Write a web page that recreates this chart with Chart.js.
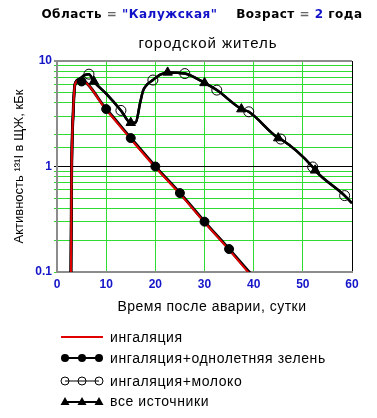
<!DOCTYPE html>
<html>
<head>
<meta charset="utf-8">
<script src="https://cdn.jsdelivr.net/npm/chart.js@4"></script>
<style>
    body { margin: 0; background: #fff; }
    #wrap { position: relative; width: 377px; height: 418px; font-family: "Liberation Sans", Arial, sans-serif; color: #000; }
    #chart { position: absolute; left: 0; top: 0; }
    .head { position: absolute; left: 20px; top: 7px; width: 364px; text-align: center; font-family: "DejaVu Sans", sans-serif; font-weight: bold; font-size: 12px; letter-spacing: 0.5px; white-space: pre; }
    .blue { color: #1010c8; }
    .eq { color: #666; }
    .sub { position: absolute; left: 108px; top: 34px; width: 200px; text-align: center; font-size: 15px; letter-spacing: 1px; }
    .xtitle { position: absolute; left: 112px; top: 298px; width: 200px; text-align: center; font-size: 14px; letter-spacing: 0.5px; }
    .legend { position: absolute; left: 60px; top: 328px; }
    .row { position: absolute; left: 0; height: 18px; width: 310px; display: flex; align-items: center; font-size: 14px; letter-spacing: 0.6px; white-space: nowrap; }
    .row svg { margin-right: 6px; }
</style>
</head>
<body>
<div id="wrap">
    <canvas id="chart" width="377" height="418"></canvas>
    <div class="head">Область <span class="eq">=</span> <span class="blue">"Калужская"</span>    Возраст <span class="eq">=</span> <span class="blue">2</span> года</div>
    <div class="sub">городской житель</div>
    <div class="xtitle" id="xtitle"></div>
    <div class="legend" id="legend"></div>
</div>
<script>
// inhalation only (red line)
const inhalDays = [2.8, 2.95, 3.3, 3.7, 4.7, 10, 15, 20, 25, 30, 35, 39.5];
const inhalValues = [0.05, 0.7, 3.3, 6.1, 6.6, 3.45, 1.82, 0.98, 0.55, 0.295, 0.162, 0.092];

// inhalation + leafy greens (black line, filled dots)
const greensDays = [2.8, 2.95, 3.3, 3.7, 4.7, 10, 15, 20, 25, 30, 35, 39.5];
const greensValues = [0.05, 0.7, 3.3, 6.1, 6.6, 3.5, 1.86, 1.0, 0.56, 0.3, 0.165, 0.095];
const greensMarkDays = [5, 10, 15, 20, 25, 30, 35];
const greensMarkValues = [6.4, 3.5, 1.86, 1.0, 0.56, 0.3, 0.165];

// inhalation + milk (black line, open circles)
const milkDays = [2.8, 2.95, 3.3, 3.7, 4.5, 5.5, 6.5, 7.5, 10, 13, 15, 16, 16.9, 17.5, 18.2, 19.5, 20.9, 22.5, 26, 30, 32.5, 37.5, 39, 45, 45.5, 52, 52.5, 58.5, 60];
const milkValues = [0.05, 0.7, 3.3, 6.1, 6.7, 7.3, 7.5, 6.4, 4.9, 3.4, 2.6, 2.6, 4.0, 5.2, 5.9, 6.6, 7.4, 7.8, 7.6, 6.2, 5.3, 3.5, 3.3, 1.86, 1.82, 0.99, 0.92, 0.53, 0.45];
const milkMarkDays = [6.5, 13, 19.5, 26, 32.5, 39, 45.5, 52, 58.5];
const milkMarkValues = [7.5, 3.4, 6.6, 7.6, 5.3, 3.3, 1.82, 0.99, 0.53];

// all sources (black line, filled triangles)
const allDays = [2.8, 2.95, 3.3, 3.7, 4.5, 5.5, 6.5, 7.5, 10, 13, 15, 16, 16.9, 17.5, 18.2, 19.5, 20.9, 22.5, 26, 30, 32.5, 37.5, 39, 45, 45.5, 52, 52.5, 58.5, 60];
const allValues = [0.05, 0.7, 3.3, 6.1, 6.7, 7.3, 7.5, 6.4, 4.9, 3.4, 2.6, 2.6, 4.0, 5.2, 5.9, 6.6, 7.4, 7.8, 7.6, 6.2, 5.3, 3.5, 3.3, 1.86, 1.82, 0.99, 0.92, 0.53, 0.45];
const allMarkDays = [7.5, 15, 22.5, 30, 37.5, 45, 52.5];
const allMarkValues = [6.4, 2.6, 7.8, 6.2, 3.5, 1.86, 0.92];

const seriesLabels = ['ингаляция', 'ингаляция+однолетняя зелень', 'ингаляция+молоко', 'все источники'];
const xTicks = [0, 10, 20, 30, 40, 50, 60];
const yTicks = [0.1, 1, 10];
const xTitle = 'Время после аварии, сутки';
const yTitle = 'Активность ¹³¹I в ЩЖ, кБк';

const gridGreen = '#30dc30';
const frameGray = '#8c8c8c';
const tickBlue = '#1414c8';

function toPoints(xs, ys) {
    return xs.map((x, i) => ({ x: x, y: ys[i] }));
}

function isDecade(v) {
    const l = Math.log10(v);
    return Math.abs(l - Math.round(l)) < 1e-6;
}

const lineBase = { pointRadius: 0, fill: false, cubicInterpolationMode: 'monotone' };
const markBase = { showLine: false, pointBorderColor: '#000', pointBorderWidth: 1 };

new Chart(document.getElementById('chart'), {
    type: 'line',
    data: {
        datasets: [
            { ...markBase, data: toPoints(greensMarkDays, greensMarkValues), pointStyle: 'circle', pointRadius: 4.5, pointBackgroundColor: '#000', order: 0 },
            { ...markBase, data: toPoints(milkMarkDays, milkMarkValues), pointStyle: 'circle', pointRadius: 5, pointBackgroundColor: 'rgba(0,0,0,0)', order: 0 },
            { ...markBase, data: toPoints(allMarkDays, allMarkValues), pointStyle: 'triangle', pointRadius: 5.5, pointBackgroundColor: '#000', order: 0 },
            { ...lineBase, label: seriesLabels[0], data: toPoints(inhalDays, inhalValues), borderColor: '#e00000', borderWidth: 2, order: 2 },
            { ...lineBase, label: seriesLabels[1], data: toPoints(greensDays, greensValues), borderColor: '#000', borderWidth: 3, order: 3 },
            { ...lineBase, label: seriesLabels[2], data: toPoints(milkDays, milkValues), borderColor: '#000', borderWidth: 2.5, order: 3 },
            { ...lineBase, label: seriesLabels[3], data: toPoints(allDays, allValues), borderColor: '#000', borderWidth: 2.5, order: 3 }
        ]
    },
    options: {
        responsive: false,
        animation: false,
        layout: { padding: { left: 0, right: 25, top: 61, bottom: 98 } },
        plugins: { legend: { display: false }, tooltip: { enabled: false } },
        scales: {
            x: {
                type: 'linear', min: 0, max: 60,
                afterFit: (s) => { s.height = 48; },
                afterBuildTicks: (s) => { s.ticks = xTicks.map(v => ({ value: v })); },
                grid: {
                    color: (c) => c.tick && c.tick.value === 60 ? '#000' : gridGreen,
                    drawTicks: false
                },
                border: { color: frameGray, width: 2 },
                ticks: { color: tickBlue, font: { family: 'Liberation Sans', weight: 'bold', size: 12 }, padding: 5, maxRotation: 0 }
            },
            y: {
                type: 'logarithmic', min: 0.1, max: 10,
                afterFit: (s) => { s.width = 57; },
                grid: {
                    color: (c) => !c.tick ? gridGreen : (Math.abs(c.tick.value - 1) < 1e-9 ? '#000' : (c.tick.value > 9.99 ? frameGray : gridGreen)),
                    lineWidth: (c) => c.tick && c.tick.value > 9.99 ? 2 : 1,
                    tickLength: 3
                },
                border: { color: frameGray, width: 2 },
                ticks: {
                    autoSkip: false, color: tickBlue, padding: 2,
                    font: { family: 'Liberation Sans', weight: 'bold', size: 12 },
                    callback: (v) => (isDecade(v) && yTicks.some(t => Math.abs(t - v) < 1e-9)) ? String(v) : ''
                },
                title: { display: true, text: yTitle, color: '#000', font: { family: 'Liberation Sans', size: 13 }, padding: { top: 12, bottom: 0 } }
            }
        }
    }
});

document.getElementById('xtitle').textContent = xTitle;

// legend rows drawn as small svg symbols
const legendSymbols = [
    '<line x1="0" y1="8" x2="42" y2="8" stroke="#e00000" stroke-width="2"/>',
    '<line x1="4" y1="8" x2="38" y2="8" stroke="#000" stroke-width="2"/>' +
        [4, 21, 38].map(x => `<circle cx="${x}" cy="8" r="4" fill="#000"/>`).join(''),
    '<line x1="4" y1="8" x2="38" y2="8" stroke="#000" stroke-width="1"/>' +
        [4, 21, 38].map(x => `<circle cx="${x}" cy="8" r="4" fill="none" stroke="#000" stroke-width="1"/>`).join(''),
    '<line x1="4" y1="9" x2="38" y2="9" stroke="#000" stroke-width="2"/>' +
        [4, 21, 38].map(x => `<polygon points="${x - 4.5},12 ${x + 4.5},12 ${x},4" fill="#000"/>`).join('')
];
const legendTops = [0, 21, 44, 64];
const legend = document.getElementById('legend');
seriesLabels.forEach((label, i) => {
    const row = document.createElement('div');
    row.className = 'row';
    row.style.top = legendTops[i] + 'px';
    row.innerHTML = `<svg width="44" height="16" viewBox="-1 0 44 16">${legendSymbols[i]}</svg><span>${label}</span>`;
    legend.appendChild(row);
});
</script>
</body>
</html>
